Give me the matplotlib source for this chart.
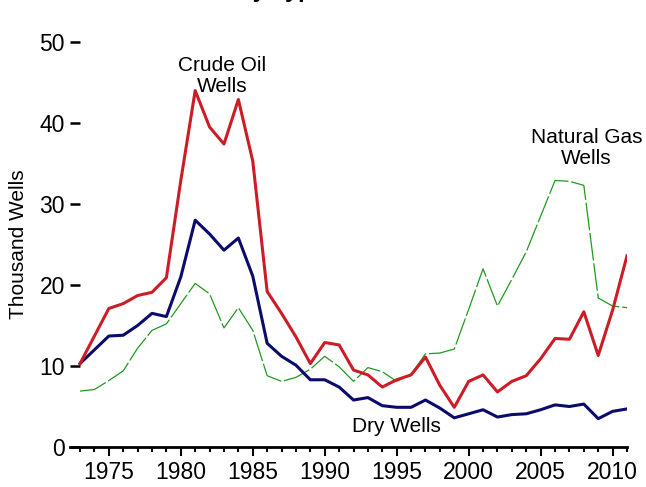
import matplotlib.pyplot as plt
import numpy as np

plt.rcParams['font.family'] = ['Liberation Sans', 'DejaVu Sans']
plt.rcParams['lines.scale_dashes'] = False

years = np.arange(1973, 2012)

# thousand wells
crude = [10.3, 13.7, 17.1, 17.7, 18.7, 19.1, 20.9, 32.9, 44.0, 39.5,
         37.4, 42.9, 35.3, 19.2, 16.5, 13.6, 10.3, 12.9, 12.6, 9.5,
         8.9, 7.4, 8.3, 8.9, 11.1, 7.6, 4.9, 8.1, 8.9, 6.8,
         8.1, 8.8, 10.9, 13.4, 13.3, 16.7, 11.3, 16.9, 23.6]
gas = [6.9, 7.1, 8.2, 9.4, 12.2, 14.4, 15.2, 17.7, 20.2, 18.9,
       14.7, 17.2, 14.4, 8.8, 8.1, 8.6, 9.6, 11.2, 9.9, 8.1,
       9.8, 9.3, 8.1, 9.0, 11.5, 11.6, 12.1, 17.0, 22.0, 17.4,
       20.7, 24.1, 28.5, 32.9, 32.8, 32.3, 18.4, 17.4, 17.2]
dry = [10.3, 12.0, 13.7, 13.8, 15.0, 16.5, 16.1, 21.0, 28.0, 26.3,
       24.3, 25.8, 21.1, 12.8, 11.2, 10.1, 8.3, 8.3, 7.4, 5.8,
       6.1, 5.1, 4.9, 4.9, 5.8, 4.8, 3.6, 4.1, 4.6, 3.7,
       4.0, 4.1, 4.6, 5.2, 5.0, 5.3, 3.5, 4.4, 4.7]

fig = plt.figure(figsize=(6.46, 4.87), dpi=100)
ax = fig.add_axes([70/646, 40/487, 557/646, 405/487])

ax.plot(years, gas, c='#1f9a1f', lw=0.9, ls=(0, (20, 2)))
ax.plot(years, dry, c='#0b0b6b', lw=2.2)
ax.plot(years, crude, c='#cc1d26', lw=2.2)

ax.set_xlim(1973 - 10/14.34, 2011)
ax.set_ylim(0, 50)

for s in ['top', 'right', 'left']:
    ax.spines[s].set_visible(False)
ax.spines['bottom'].set_linewidth(2)

ax.set_xticks(range(1975, 2011, 5))
ax.set_xticks(range(1973, 2012), minor=True)
ax.tick_params(axis='x', which='major', length=6.5, width=1.5, pad=3.5, labelsize=16.5)
ax.tick_params(axis='x', which='minor', length=3.6, width=1.5)
ax.set_yticks(range(0, 51, 10))
ax.tick_params(axis='y', direction='in', length=7, width=1.8, pad=3.6, labelsize=16.5)

ax.set_ylabel("Thousand Wells", fontsize=15, labelpad=8)

# series labels
ax.text(1982.9, 45.8, "Crude Oil\nWells", fontsize=15,
        ha='center', va='center', linespacing=1.15)
ax.text(2008.2, 36.9, "Natural Gas\nWells", fontsize=15,
        ha='center', va='center', linespacing=1.15)
ax.text(1995.0, 2.5, "Dry Wells", fontsize=15, ha='center', va='center')

# title sits above the visible area, only its descenders peek in
fig.text(325/646, 1 + 3.5/487, "Oil and Gas Wells Drilled by Type",
         fontsize=17, fontweight='bold', ha='right', va='baseline')

plt.savefig('out.png', dpi=100)
